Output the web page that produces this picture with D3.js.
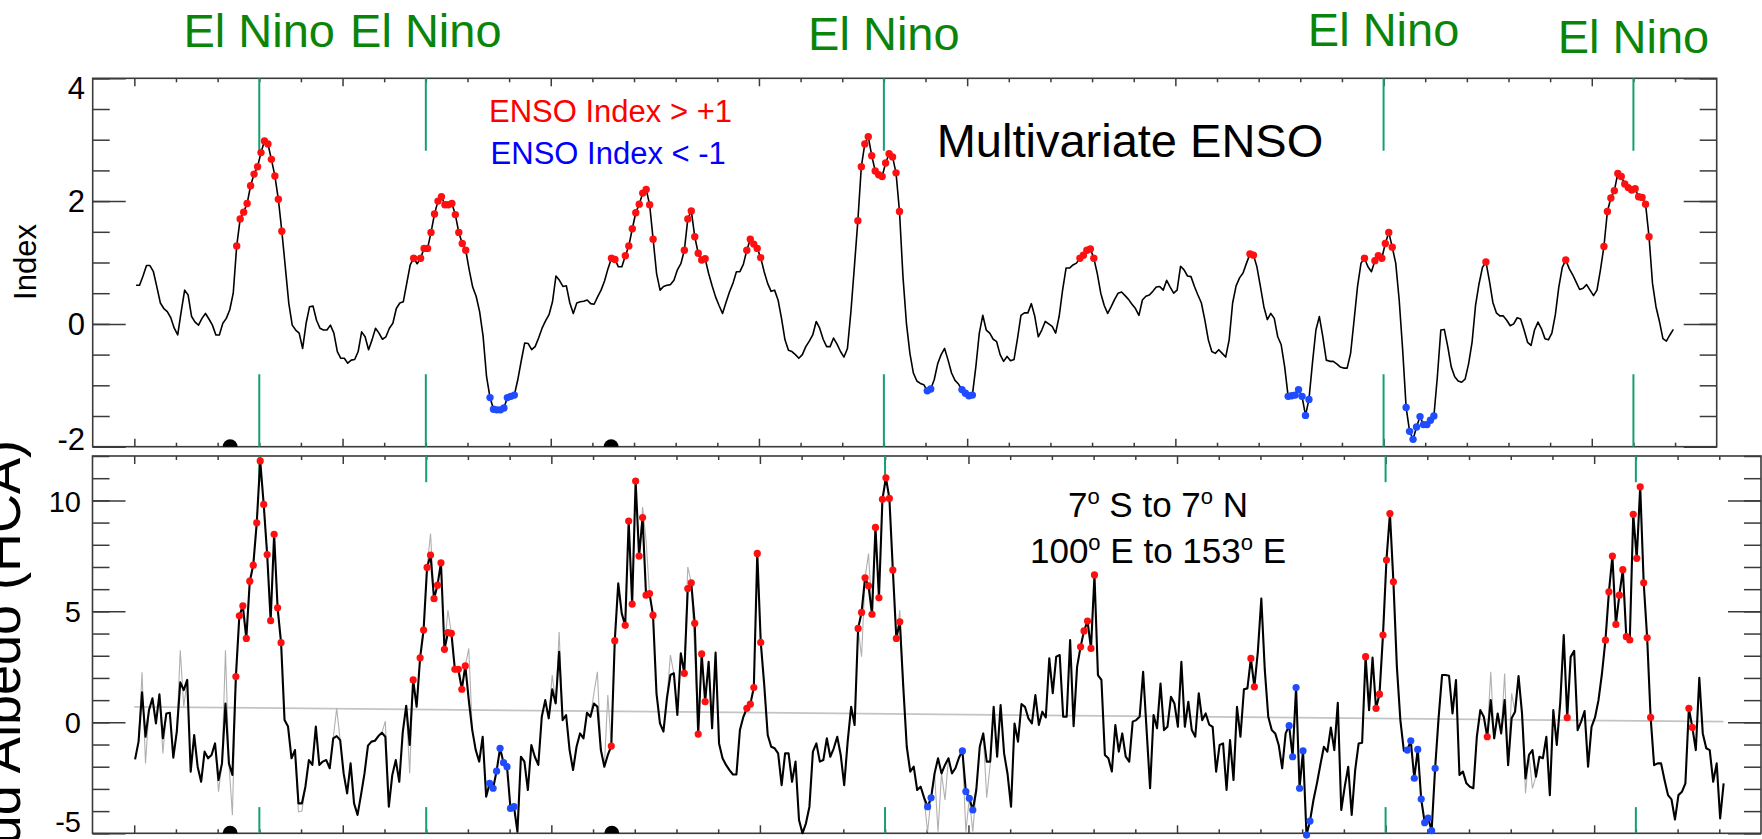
<!DOCTYPE html>
<html>
<head>
<meta charset="utf-8">
<script src="https://cdnjs.cloudflare.com/ajax/libs/d3/7.8.5/d3.min.js"></script>
<style>
  body { margin: 0; background: #fff; }
  svg { display: block; font-family: Arial, "Liberation Sans", Helvetica, sans-serif; }
</style>
</head>
<body>
<script>
// monthly values, month 0 = Jan 1980
const startYear = 1980;

// Multivariate ENSO index (top panel), Jan 1980 - Dec 2016
const mei = [
  0.63, 0.63, 0.78, 0.95, 0.95, 0.85, 0.60, 0.34, 0.25, 0.20, 0.10, -0.07,
  -0.18, 0.20, 0.55, 0.47, 0.12, 0.03, -0.02, 0.09, 0.17, 0.08, -0.02, -0.18,
  -0.18, 0.01, 0.09, 0.23, 0.50, 1.27, 1.71, 1.82, 1.96, 2.25, 2.44, 2.56,
  2.79, 2.98, 2.93, 2.68, 2.41, 2.03, 1.51, 0.93, 0.34, -0.02, -0.10, -0.15,
  -0.40, 0.01, 0.28, 0.29, 0.06, -0.07, -0.10, -0.10, -0.02, -0.15, -0.45, -0.56,
  -0.56, -0.64, -0.59, -0.58, -0.45, -0.13, -0.21, -0.42, -0.26, -0.07, -0.15, -0.25,
  -0.21, -0.07, 0.01, 0.25, 0.34, 0.36, 0.66, 0.96, 1.07, 0.98, 1.07, 1.23,
  1.23, 1.49, 1.79, 2.00, 2.07, 1.94, 1.94, 1.96, 1.78, 1.49, 1.31, 1.20,
  0.88, 0.60, 0.45, 0.20, -0.20, -0.86, -1.20, -1.39, -1.40, -1.40, -1.37, -1.20,
  -1.18, -1.16, -0.91, -0.60, -0.31, -0.32, -0.42, -0.37, -0.23, -0.07, 0.05, 0.15,
  0.36, 0.78, 0.71, 0.61, 0.62, 0.34, 0.17, 0.34, 0.36, 0.37, 0.39, 0.33,
  0.32, 0.44, 0.55, 0.70, 0.90, 1.07, 1.05, 0.93, 0.93, 1.11, 1.27, 1.55,
  1.81, 1.95, 2.13, 2.19, 1.94, 1.38, 0.82, 0.55, 0.61, 0.63, 0.64, 0.71,
  0.88, 0.98, 1.20, 1.71, 1.84, 1.42, 1.15, 1.04, 1.06, 0.82, 0.62, 0.44,
  0.30, 0.17, 0.35, 0.52, 0.66, 0.85, 0.85, 0.97, 1.20, 1.38, 1.30, 1.23,
  1.08, 0.85, 0.66, 0.53, 0.55, 0.39, 0.09, -0.26, -0.43, -0.45, -0.50, -0.56,
  -0.50, -0.37, -0.28, -0.18, 0.04, -0.07, -0.25, -0.37, -0.37, -0.23, -0.33, -0.45,
  -0.54, -0.40, 0.20, 0.93, 1.68, 2.56, 2.93, 3.05, 2.74, 2.49, 2.43, 2.40,
  2.62, 2.77, 2.72, 2.46, 1.83, 0.77, 0.01, -0.48, -0.80, -0.93, -0.97, -0.99,
  -1.09, -1.06, -0.91, -0.65, -0.50, -0.40, -0.59, -0.80, -0.92, -0.98, -1.07, -1.13,
  -1.17, -1.16, -0.70, -0.15, 0.14, -0.10, -0.15, -0.25, -0.29, -0.50, -0.61, -0.53,
  -0.60, -0.58, -0.24, 0.14, 0.18, 0.18, 0.33, 0.12, -0.21, -0.10, 0.04, 0.00,
  -0.04, -0.15, 0.12, 0.55, 0.91, 0.91, 0.96, 0.99, 1.07, 1.12, 1.20, 1.22,
  1.07, 0.82, 0.50, 0.30, 0.17, 0.28, 0.40, 0.50, 0.52, 0.46, 0.40, 0.32,
  0.25, 0.14, 0.39, 0.45, 0.47, 0.53, 0.60, 0.61, 0.55, 0.71, 0.60, 0.50,
  0.55, 0.94, 0.88, 0.78, 0.77, 0.61, 0.47, 0.34, 0.06, -0.26, -0.45, -0.48,
  -0.42, -0.48, -0.54, -0.26, 0.34, 0.62, 0.75, 0.83, 0.99, 1.14, 1.12, 0.93,
  0.61, 0.28, 0.07, 0.17, 0.09, -0.21, -0.34, -0.70, -1.18, -1.17, -1.16, -1.07,
  -1.18, -1.49, -1.23, -0.64, -0.10, 0.12, -0.21, -0.59, -0.61, -0.61, -0.65, -0.70,
  -0.72, -0.72, -0.48, 0.06, 0.61, 0.99, 1.07, 0.93, 0.85, 1.03, 1.11, 1.07,
  1.31, 1.49, 1.25, 0.99, 0.39, -0.42, -1.36, -1.75, -1.88, -1.68, -1.51, -1.64,
  -1.64, -1.57, -1.50, -0.86, -0.10, -0.09, -0.37, -0.70, -0.86, -0.93, -0.95, -0.90,
  -0.65, -0.30, 0.30, 0.65, 0.92, 1.01, 0.70, 0.35, 0.18, 0.13, 0.13, 0.06,
  -0.03, 0.00, 0.10, 0.08, -0.10, -0.30, -0.35, -0.10, 0.03, -0.08, -0.24, -0.26,
  -0.15, 0.15, 0.60, 0.92, 1.04, 0.90, 0.80, 0.68, 0.56, 0.58, 0.64, 0.55,
  0.46, 0.55, 0.88, 1.26, 1.83, 2.05, 2.17, 2.45, 2.40, 2.28, 2.22, 2.18,
  2.20, 2.07, 2.06, 1.95, 1.42, 0.66, 0.28, 0.04, -0.24, -0.28, -0.18, -0.09
];
// ENSO index for early 2017 (not drawn in the top panel, only colours the dots below)
const meiLate = [0.10, 0.45, 0.85, 1.35, 1.20, 0.70, 0.40];

// cloud albedo anomaly (bottom panel, black line), Jan 1980 - Feb 2018
const albedo = [
  -1.67, -0.87, 1.35, -0.65, 0.55, 1.08, -0.05, 1.26, -0.72, 0.40, 0.43, -1.59,
  -0.42, 1.80, 1.45, 1.91, -2.22, -0.57, -2.00, -2.68, -1.32, -1.62, -1.47, -0.95,
  -2.60, -1.85, 0.85, -1.85, -2.37, 2.06, 4.80, 5.25, 3.78, 6.36, 7.08, 8.99,
  11.78, 9.82, 7.56, 4.58, 8.47, 5.16, 3.59, 0.10, -0.19, -1.62, -1.25, -3.65,
  -3.65, -2.90, -1.70, -1.92, -0.19, -1.92, -1.77, -1.70, -2.07, -0.72, -0.62, -0.80,
  -2.30, -3.20, -1.85, -3.65, -4.17, -3.27, -2.30, -1.05, -0.87, -0.83, -0.62, -0.47,
  -0.65, -3.80, -2.37, -1.70, -2.68, -0.45, 0.75, -1.02, 1.91, 0.70, 2.91, 4.16,
  6.98, 7.54, 5.57, 6.18, 7.19, 3.29, 4.04, 4.01, 2.39, 2.39, 1.49, 2.54,
  1.00, -0.35, -1.25, -1.77, -0.65, -3.35, -2.75, -2.97, -2.20, -1.17, -1.82, -2.00,
  -3.88, -3.80, -4.93, -1.55, -1.77, -3.05, -1.02, -1.55, -1.92, 0.25, 1.00, 0.18,
  1.49, 0.85, 3.18, 0.10, 0.33, -1.25, -2.15, -1.10, -0.50, -0.72, 0.43, 0.25,
  0.85, 0.70, -1.25, -2.00, -1.47, -1.07, 3.68, 6.26, 4.91, 4.37, 9.07, 5.33,
  10.87, 7.49, 9.23, 5.73, 5.80, 4.83, 1.31, -0.05, -0.42, 1.08, 2.13, 2.21,
  0.33, 3.11, 2.21, 6.03, 6.29, 4.46, -0.53, 3.08, 0.93, 2.73, -0.27, 3.14,
  -0.95, -1.62, -1.92, -2.15, -2.35, -2.35, -0.35, 0.25, 0.63, 0.82, 1.57, 7.61,
  3.60, 1.68, -0.57, -1.10, -1.17, -1.40, -2.83, -1.40, -1.40, -2.68, -1.77, -4.40,
  -5.00, -4.55, -3.80, -1.32, -0.95, -1.77, -1.70, -0.72, -1.55, -1.17, -0.65, -1.47,
  -2.83, -0.87, 0.70, -0.12, 4.23, 4.95, 6.51, 6.15, 4.87, 8.78, 5.61, 10.05,
  11.02, 10.09, 6.86, 3.78, 4.53, 1.60, -1.10, -2.22, -2.00, -3.05, -2.90, -3.40,
  -3.80, -3.40, -2.30, -1.62, -2.30, -1.92, -1.62, -2.30, -2.07, -1.60, -1.29, -3.12,
  -3.42, -3.95, -3.05, -1.10, -0.50, -1.77, -1.77, 0.70, -1.55, 0.78, -1.40, -2.33,
  -3.80, -0.05, -0.87, 0.82, 0.70, 0.18, -0.05, 1.23, -0.12, 0.48, 0.22, 2.88,
  1.31, 2.96, 3.03, 0.25, 0.25, 3.71, -0.17, 2.50, 3.40, 4.12, 4.56, 3.33,
  6.64, 2.13, 1.91, -1.47, -1.62, -2.22, -0.12, -1.32, -0.50, -1.55, -1.77, 0.03,
  0.10, 0.25, 2.28, -0.35, -2.97, 0.33, -0.27, 1.75, -0.35, -0.20, 1.15, 0.85,
  -0.20, 2.73, -0.20, 0.93, -0.35, -0.65, 1.31, 0.10, 0.40, -0.10, -0.20, -2.22,
  -1.02, -0.95, -3.05, -0.80, -2.60, 0.70, -0.65, 1.49, 1.53, 2.88, 1.60, 3.18,
  5.58, 2.36, 0.25, -0.35, -0.50, -1.02, -2.07, -0.50, -0.15, -1.55, 1.57, -2.97,
  -1.28, -5.08, -4.45, -3.50, -2.75, -1.90, -1.10, -1.32, -0.23, -1.25, 0.88, -3.95,
  -2.90, -2.00, -4.17, -2.15, -0.95, -0.92, 2.96, 0.55, 2.92, 0.63, 1.27, 3.93,
  7.31, 9.41, 6.33, 2.50, 0.10, -1.28, -1.25, -0.83, -2.52, -1.22, -3.46, -4.52,
  -4.32, -4.88, -2.07, 0.20, 2.13, 2.13, 2.10, 0.40, 1.90, -2.37, -2.22, -2.75,
  -2.90, -2.97, -0.65, 0.55, 0.25, -0.65, 1.00, -0.72, 0.40, -0.50, 1.00, -1.93,
  0.18, 0.48, 2.08, 0.40, -2.53, -1.47, -1.25, -2.45, -1.55, -1.62, -0.65, -3.28,
  0.55, -1.02, 0.90, 3.93, 0.21, 2.95, 3.22, -0.35, 0.03, 0.51, -2.00, -0.20,
  0.22, 1.00, 2.20, 3.70, 5.88, 7.49, 4.41, 5.73, 6.88, 3.86, 3.71, 9.37,
  7.39, 10.61, 6.29, 3.81, 0.22, -1.93, -1.85, -1.85, -2.60, -3.28, -3.47, -4.38,
  -3.28, -3.13, -2.75, 0.63, -0.23, -1.25, 2.01, -0.50, -1.17, -1.25, -2.68, -1.85,
  -4.33, -2.75
];

// thin grey version, only where it leaves the black line: [month, value]
const albedoGrey = [
  [[1, -0.87], [2, 2.25], [3, -1.85], [4, 0.55]],
  [[7, 1.26], [8, -1.40], [9, 0.40]],
  [[12, -0.42], [13, 3.25], [14, 0.70], [15, 1.91]],
  [[23, -0.95], [24, -3.13], [25, -1.85], [26, 3.25], [27, -1.85], [28, -4.18], [29, 2.06]],
  [[46, -1.25], [47, -4.03], [48, -4.00], [49, -2.90]],
  [[57, -0.72], [58, 0.63], [59, -0.80]],
  [[71, -0.47], [72, 0.05], [73, -3.80]],
  [[78, 0.75], [79, -2.30], [80, 1.91]],
  [[84, 6.98], [85, 8.51], [86, 5.57]],
  [[89, 3.29], [90, 5.06], [91, 4.01]],
  [[95, 2.54], [96, 3.33], [97, -0.35]],
  [[119, 0.18], [120, 2.13], [121, 0.85], [122, 4.07], [123, 0.10]],
  [[131, 0.25], [132, 1.31], [133, 2.28], [134, -1.25]],
  [[135, -2.00], [136, 1.23], [137, -1.07]],
  [[145, 7.49], [146, 9.70], [147, 8.20], [148, 5.80]],
  [[153, 1.08], [154, 3.03], [155, 2.21]],
  [[158, 2.21], [159, 7.00], [160, 6.29], [161, 3.20], [162, -0.53]],
  [[208, 4.23], [209, 2.96], [210, 6.51], [211, 7.60], [212, 4.87]],
  [[219, 3.78], [220, 5.06], [221, 1.60]],
  [[226, -2.90], [227, -3.50], [228, -4.93], [229, -3.40], [230, -2.30], [231, -4.93], [232, -2.30], [233, -3.50], [234, -1.62]],
  [[238, -1.29], [239, -4.93], [240, -3.42], [241, -4.93], [242, -3.05]],
  [[244, -0.50], [245, -3.40], [246, -1.90], [247, 0.70]],
  [[389, -0.65], [390, 2.28], [391, -0.72]],
  [[393, -0.50], [394, 2.20], [395, -1.93], [396, 1.30], [397, 0.48]],
  [[399, 0.40], [400, -3.20], [401, -1.47], [402, -2.98], [403, -2.45]]
];

// linear trend of the albedo series
const trendYears = [1980.0, 2018.1];
const trendValues = [0.70, 0.03];

const elNinoYears = [1983, 1987, 1998, 2010, 2016];
const volcanoYears = [1982.3, 1991.45];   // El Chichon, Pinatubo

const topMajor = [-2, 0, 2, 4];
const bottomMajor = [-5, 0, 5, 10];

// ---- layout ----
const W = 1762, H = 839;
const topBox = { l: 92.7, r: 1716.7, t: 78.3, b: 446.7 };
const botBox = { l: 92.5, r: 1761, t: 456, b: 833.3 };
const labelY = [46.7, 46.7, 50, 46, 52.7];   // baselines of the El Nino words
const axisColor = '#3a3a3a';
const green = '#15a06c';
const red = '#ff1010', blue = '#1f4cff';

const svg = d3.select('body').append('svg')
  .attr('width', W)
  .attr('height', H);

const xTop = d3.scaleLinear().domain([1979, 2018]).range([topBox.l, topBox.r]);
const yTop = d3.scaleLinear().domain([-2, 4]).range([topBox.b, topBox.t]);
const xBot = d3.scaleLinear().domain([1979, 2019]).range([botBox.l, botBox.r]);
const yBot = d3.scaleLinear().domain([-5, 12]).range([botBox.b, botBox.t]);

const monthTop = k => startYear + (k + 0.5) / 12;
const monthBot = k => startYear + (k + 0.25) / 12;
const ensoAt = k => k < mei.length ? mei[k] : meiLate[k - mei.length];

// clip paths so the volcano markers are cut at the axis
const defs = svg.append('defs');
[['clipTop', topBox], ['clipBot', botBox]].forEach(([id, b]) => {
  defs.append('clipPath').attr('id', id)
    .append('rect').attr('x', b.l).attr('y', b.t).attr('width', b.r - b.l).attr('height', b.b - b.t);
});

function drawAxes(box, x, y, years, yMinor, yMajor, fontSize, labelRight, shifts) {
  const g = svg.append('g');
  const style = sel => {
    sel.select('.domain').remove();
    sel.selectAll('.tick line').attr('stroke', axisColor).attr('stroke-width', 1.5);
  };
  const minorYears = years.filter(v => v % 5 !== 0);
  const majorYears = years.filter(v => v % 5 === 0);
  // x ticks, inward on top and bottom
  g.append('g').attr('transform', `translate(0,${box.b})`)
    .call(d3.axisBottom(x).tickValues(minorYears).tickSize(-4).tickFormat('')).call(style);
  g.append('g').attr('transform', `translate(0,${box.b})`)
    .call(d3.axisBottom(x).tickValues(majorYears).tickSize(-8).tickFormat('')).call(style);
  g.append('g').attr('transform', `translate(0,${box.t})`)
    .call(d3.axisTop(x).tickValues(minorYears).tickSize(-4).tickFormat('')).call(style);
  g.append('g').attr('transform', `translate(0,${box.t})`)
    .call(d3.axisTop(x).tickValues(majorYears).tickSize(-8).tickFormat('')).call(style);
  // y ticks, left and right
  g.append('g').attr('transform', `translate(${box.l},0)`)
    .call(d3.axisLeft(y).tickValues(yMinor).tickSize(-17).tickFormat('')).call(style);
  g.append('g').attr('transform', `translate(${box.l},0)`)
    .call(d3.axisLeft(y).tickValues(yMajor).tickSize(-33).tickFormat('')).call(style);
  g.append('g').attr('transform', `translate(${box.r},0)`)
    .call(d3.axisRight(y).tickValues(yMinor).tickSize(-17).tickFormat('')).call(style);
  g.append('g').attr('transform', `translate(${box.r},0)`)
    .call(d3.axisRight(y).tickValues(yMajor).tickSize(-33).tickFormat('')).call(style);
  // frame
  g.append('rect')
    .attr('x', box.l).attr('y', box.t)
    .attr('width', box.r - box.l).attr('height', box.b - box.t)
    .attr('fill', 'none').attr('stroke', axisColor).attr('stroke-width', 1.6);
  // labels
  g.selectAll('.ylab').data(yMajor).enter().append('text')
    .attr('class', 'ylab')
    .attr('x', labelRight)
    .attr('y', d => y(d) + fontSize * 0.36 + (shifts[d] || 0))
    .attr('text-anchor', 'end')
    .style('font-size', fontSize + 'px')
    .style('fill', '#000')
    .text(d => d);
}

drawAxes(topBox, xTop, yTop, d3.range(1980, 2018), d3.range(-2, 4.01, 0.5), topMajor, 31, 85, { 4: 10, '-2': -8 });
drawAxes(botBox, xBot, yBot, d3.range(1980, 2019), d3.range(-5, 12.01, 1), bottomMajor, 29, 81, { '-5': -12, 10: 1.5 });

// El Nino marks
const markLen = 1.18;
elNinoYears.forEach(yr => {
  [[xTop, yTop, 4, -2], [xBot, yBot, 12, -5]].forEach(([x, y, hi, lo]) => {
    svg.append('line').attr('x1', x(yr)).attr('x2', x(yr))
      .attr('y1', y(hi)).attr('y2', y(hi - markLen))
      .attr('stroke', green).attr('stroke-width', 2);
    svg.append('line').attr('x1', x(yr)).attr('x2', x(yr))
      .attr('y1', y(lo + markLen)).attr('y2', y(lo))
      .attr('stroke', green).attr('stroke-width', 2);
  });
});

svg.selectAll('.nino').data(elNinoYears).enter().append('text')
  .attr('class', 'nino')
  .attr('x', d => xTop(d))
  .attr('y', (d, i) => labelY[i])
  .attr('text-anchor', 'middle')
  .style('font-size', '47px')
  .style('fill', '#0a850a')
  .text('El Nino');

// ---- top panel: MEI ----
const topLine = d3.line().x((d, k) => xTop(monthTop(k))).y(d => yTop(d));
svg.append('path').datum(mei)
  .attr('d', topLine)
  .attr('fill', 'none').attr('stroke', '#000').attr('stroke-width', 1.6)
  .attr('stroke-linejoin', 'round');

const topDots = mei.map((v, k) => ({ k, v })).filter(d => Math.abs(d.v) > 1);
svg.selectAll('.tdot').data(topDots).enter().append('circle')
  .attr('class', 'tdot')
  .attr('cx', d => xTop(monthTop(d.k)))
  .attr('cy', d => yTop(d.v))
  .attr('r', 3.7)
  .attr('fill', d => d.v > 0 ? red : blue);

// ---- bottom panel: albedo ----
svg.append('line')
  .attr('x1', xBot(trendYears[0])).attr('y1', yBot(trendValues[0]))
  .attr('x2', xBot(trendYears[1])).attr('y2', yBot(trendValues[1]))
  .attr('stroke', '#c4c4c4').attr('stroke-width', 1.8);

const greyLine = d3.line().x(d => xBot(monthBot(d[0]))).y(d => yBot(d[1]));
svg.selectAll('.grey').data(albedoGrey).enter().append('path')
  .attr('class', 'grey')
  .attr('d', greyLine)
  .attr('fill', 'none').attr('stroke', '#b0b0b0').attr('stroke-width', 1.1);

const botLine = d3.line().x((d, k) => xBot(monthBot(k))).y(d => yBot(d));
svg.append('path').datum(albedo)
  .attr('d', botLine)
  .attr('fill', 'none').attr('stroke', '#000').attr('stroke-width', 2.1)
  .attr('stroke-linejoin', 'round');

const botDots = albedo.map((v, k) => ({ k, v, e: ensoAt(k) }))
  .filter(d => d.e !== undefined && Math.abs(d.e) > 1);
svg.selectAll('.bdot').data(botDots).enter().append('circle')
  .attr('class', 'bdot')
  .attr('cx', d => xBot(monthBot(d.k)))
  .attr('cy', d => yBot(d.v))
  .attr('r', 3.6)
  .attr('fill', d => d.e > 0 ? red : blue);

// volcano markers sitting on the bottom axes
svg.append('g').attr('clip-path', 'url(#clipTop)')
  .selectAll('circle').data(volcanoYears).enter().append('circle')
  .attr('cx', d => xTop(d)).attr('cy', yTop(-2)).attr('r', 7.5).attr('fill', '#000');
svg.append('g').attr('clip-path', 'url(#clipBot)')
  .selectAll('circle').data(volcanoYears).enter().append('circle')
  .attr('cx', d => xBot(d)).attr('cy', yBot(-5)).attr('r', 7.5).attr('fill', '#000');

// ---- annotations ----
svg.append('text').attr('x', 489).attr('y', 121.7)
  .style('font-size', '31px').style('fill', '#ff0000').text('ENSO Index > +1');
svg.append('text').attr('x', 490.6).attr('y', 164.3)
  .style('font-size', '31px').style('fill', '#0000ff').text('ENSO Index < -1');
svg.append('text').attr('x', 936.7).attr('y', 156.7)
  .style('font-size', '47px').style('fill', '#000').text('Multivariate ENSO');

// text with raised small "o" for degrees
function regionLabel(y, parts) {
  const t = svg.append('text').attr('x', 1158).attr('y', y)
    .attr('text-anchor', 'middle').style('font-size', '35px').style('fill', '#000');
  let lower = false;
  parts.forEach(p => {
    if (p === 'o') {
      t.append('tspan').attr('dy', -13).style('font-size', '22px').text('o');
      lower = true;
    } else {
      const s = t.append('tspan').text(p);
      if (lower) { s.attr('dy', 13); lower = false; }
    }
  });
}
regionLabel(517.3, ['7', 'o', ' S to 7', 'o', ' N']);
regionLabel(562.7, ['100', 'o', ' E to 153', 'o', ' E']);

svg.append('text')
  .attr('transform', 'translate(36,262) rotate(-90)')
  .attr('text-anchor', 'middle')
  .style('font-size', '31px').style('fill', '#000')
  .text('Index');

svg.append('text')
  .attr('transform', 'translate(20,440) rotate(-90)')
  .attr('text-anchor', 'end')
  .style('font-size', '54px').style('fill', '#000')
  .text('Cloud Albedo (HCA)');
</script>
</body>
</html>
